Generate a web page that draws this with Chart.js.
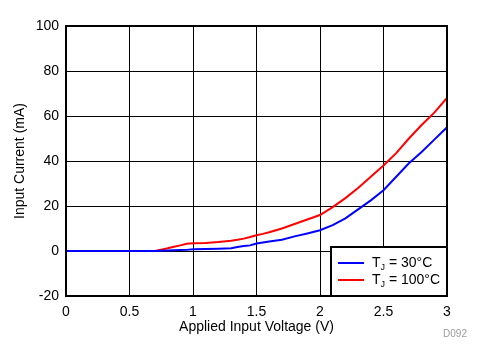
<!DOCTYPE html>
<html>
<head>
<meta charset="utf-8">
<script src="https://cdn.jsdelivr.net/npm/chart.js@4"></script>
<style>
  html, body { margin: 0; padding: 0; background: #fff; }
  #wrap { width: 485px; height: 362px; }
</style>
</head>
<body>
<div id="wrap"><canvas id="chart" width="485" height="362"></canvas></div>
<script>
// applied voltage (V)
const voltage = [0, 0.7, 0.75, 0.8, 0.85, 0.9, 0.95, 1.0, 1.1, 1.2, 1.3, 1.35, 1.4, 1.45, 1.5, 1.55, 1.6, 1.7, 1.8, 1.9, 2.0, 2.1, 2.2, 2.3, 2.4, 2.5, 2.6, 2.7, 2.8, 2.9, 3.0];
// input current (mA)
const current30 = [0, 0, 0.1, 0.2, 0.3, 0.4, 0.5, 0.8, 0.9, 1.0, 1.2, 1.8, 2.2, 2.5, 3.3, 3.8, 4.2, 5.0, 6.5, 7.8, 9.2, 11.5, 14.5, 18.5, 22.5, 27, 33, 39, 44, 49.5, 55];
const current100 = [0, 0, 0.6, 1.2, 1.9, 2.5, 3.2, 3.4, 3.6, 4.0, 4.6, 5.0, 5.5, 6.2, 7.0, 7.6, 8.3, 10, 12, 14, 16, 19.5, 23.5, 28, 33, 38, 43.5, 50, 56, 61.5, 68];
const legendTemps = ["30°C", "100°C"];
const lineColors = ["#0000ff", "#ff0000"];

const FONT = "'Liberation Sans', Arial, sans-serif";

function pts(ys) {
    return voltage.map((v, i) => ({ x: v, y: ys[i] }));
}

// frame round the plot, the legend box and the figure tag
const frame = {
    id: "frame",
    afterDraw(chart) {
        const { ctx, chartArea: a } = chart;
        ctx.save();
        ctx.strokeStyle = "#000";
        ctx.lineWidth = 2;
        ctx.strokeRect(a.left, a.top, a.right - a.left, a.bottom - a.top);

        // legend
        const bx = 331, by = 247;
        ctx.fillStyle = "#fff";
        ctx.fillRect(bx, by, a.right - bx, a.bottom - by);
        ctx.strokeRect(bx, by, a.right - bx, a.bottom - by);
        chart.data.datasets.forEach((ds, i) => {
            const y = 263 + i * 17;
            ctx.strokeStyle = ds.borderColor;
            ctx.lineWidth = 2;
            ctx.beginPath();
            ctx.moveTo(338, y);
            ctx.lineTo(364, y);
            ctx.stroke();
            ctx.fillStyle = "#000";
            ctx.textBaseline = "middle";
            ctx.textAlign = "left";
            ctx.font = "14px " + FONT;
            ctx.fillText("T", 372, y);
            let x = 372 + ctx.measureText("T").width;
            ctx.font = "9px " + FONT;
            ctx.fillText("J", x, y + 5);
            x += ctx.measureText("J").width;
            ctx.font = "14px " + FONT;
            ctx.fillText(" = " + legendTemps[i], x, y);
        });

        ctx.fillStyle = "#999";
        ctx.font = "10px " + FONT;
        ctx.textAlign = "center";
        ctx.fillText("D092", 455, 334);
        ctx.restore();
    }
};

new Chart(document.getElementById("chart"), {
    type: "line",
    data: {
        datasets: [{
            label: "TJ = " + legendTemps[0],
            data: pts(current30),
            borderColor: lineColors[0],
            borderWidth: 2,
            pointRadius: 0,
            tension: 0
        }, {
            label: "TJ = " + legendTemps[1],
            data: pts(current100),
            borderColor: lineColors[1],
            borderWidth: 2,
            pointRadius: 0,
            tension: 0
        }]
    },
    options: {
        responsive: false,
        animation: false,
        layout: { padding: { top: 26, right: 38, bottom: 26, left: 0 } },
        plugins: { legend: { display: false }, tooltip: { enabled: false } },
        scales: {
            x: {
                type: "linear",
                min: 0, max: 3,
                afterFit(s) { s.height = 40; },
                ticks: {
                    stepSize: 0.5, color: "#000", padding: 8,
                    font: { family: FONT, size: 14 },
                    callback: (v) => String(v)
                },
                grid: { color: "#000", lineWidth: 1, drawTicks: false },
                border: { color: "#000", width: 2 },
                title: { display: true, text: "Applied Input Voltage (V)", color: "#000", padding: 0, font: { family: FONT, size: 14 } }
            },
            y: {
                min: -20, max: 100,
                afterFit(s) { s.width = 66; },
                ticks: { stepSize: 20, color: "#000", padding: 7, font: { family: FONT, size: 14 } },
                grid: { color: "#000", lineWidth: 1, drawTicks: false },
                border: { color: "#000", width: 2 },
                title: { display: true, text: "Input Current (mA)", color: "#000", padding: { top: 12, bottom: 0 }, font: { family: FONT, size: 14 } }
            }
        }
    },
    plugins: [frame]
});
</script>
</body>
</html>
